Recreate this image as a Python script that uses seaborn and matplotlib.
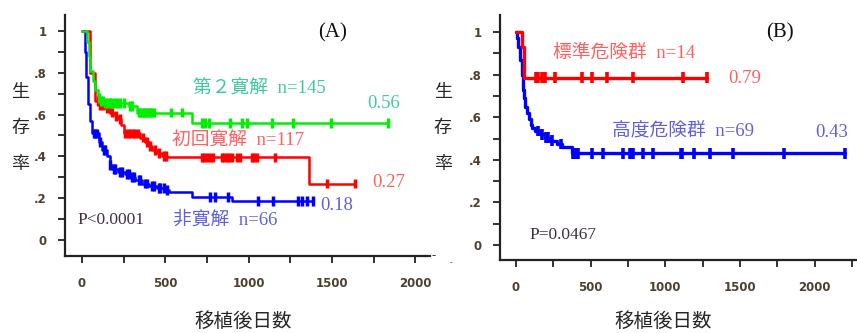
import numpy as np
import pandas as pd
import seaborn as sns
import matplotlib.pyplot as plt
from matplotlib.ticker import MultipleLocator

# ---- panel A: 寛解状態別 ----
a_green_t = [0, 30, 40, 50, 65, 80, 95, 110, 140, 280, 330, 660]
a_green_s = [1.0, 0.95, 0.88, 0.81, 0.76, 0.72, 0.68, 0.665, 0.655, 0.64, 0.61, 0.56]
a_green_end = 1838
a_green_c = [100, 115, 125, 140, 150, 165, 175, 190, 210, 230, 250, 290, 300, 340, 350,
             360, 370, 380, 390, 400, 410, 420, 430, 532, 600, 720, 740, 760, 888, 958,
             990, 1138, 1268, 1494, 1838]

a_red_t = [0, 45, 78, 100, 130, 170, 195, 215, 235, 250, 350, 380, 400, 420, 450, 480, 510, 1360]
a_red_s = [1.0, 0.80, 0.665, 0.645, 0.63, 0.61, 0.595, 0.58, 0.55, 0.51, 0.49, 0.47, 0.45,
           0.43, 0.415, 0.40, 0.395, 0.27]
a_red_end = 1638
a_red_c = [95, 110, 125, 150, 165, 180, 205, 225, 260, 275, 290, 305, 320, 335, 365, 390,
           410, 435, 460, 490, 505, 720, 735, 750, 770, 786, 840, 855, 870, 885, 900, 930,
           948, 1020, 1035, 1050, 1158, 1470, 1638]

a_blue_t = [0, 15, 25, 35, 45, 60, 100, 120, 150, 165, 180, 215, 260, 290, 320, 360, 400,
            450, 500, 520, 660, 900]
a_blue_s = [1.0, 0.90, 0.78, 0.65, 0.57, 0.51, 0.47, 0.43, 0.40, 0.36, 0.34, 0.325, 0.315,
            0.30, 0.285, 0.27, 0.26, 0.25, 0.24, 0.228, 0.205, 0.185]
a_blue_end = 1386
a_blue_c = [70, 80, 90, 110, 130, 140, 170, 190, 200, 230, 240, 270, 280, 300, 310, 340,
            350, 380, 390, 420, 430, 460, 470, 490, 510, 768, 798, 876, 1056, 1146, 1296,
            1320, 1350, 1386]

# ---- panel B: 危険群別 ----
b_red_t = [0, 38, 53]
b_red_s = [1.0, 0.929, 0.786]
b_red_end = 1277
b_red_c = [134, 148, 175, 195, 262, 444, 511, 612, 786, 1116, 1277]

b_blue_t = [0, 10, 15, 25, 40, 47, 55, 62, 74, 85, 100, 110, 128, 160, 195, 228, 275, 309, 376]
b_blue_s = [1.0, 0.97, 0.93, 0.87, 0.80, 0.73, 0.69, 0.65, 0.62, 0.59, 0.565, 0.55, 0.535,
            0.52, 0.505, 0.49, 0.475, 0.46, 0.43]
b_blue_end = 2204
b_blue_c = [150, 175, 200, 215, 240, 300, 383, 395, 405, 417, 511, 585, 719, 766, 775, 786,
            853, 921, 1102, 1115, 1190, 1297, 1452, 1794, 2204]

x_ticks_a = list(range(0, 2001, 250))
x_ticks_b = list(range(0, 2251, 250))
y_ticks = [0, 0.2, 0.4, 0.6, 0.8, 1.0]
y_tick_labels = ["0", ".2", ".4", ".6", ".8", "1"]


def km_frames(curves):
    lines, cens = [], []
    for name, t, s, end, c in curves:
        lines.append(pd.DataFrame({"day": t + [end], "surv": s + [s[-1]], "group": name}))
        idx = np.searchsorted(t, c, side="right") - 1
        cens.append(pd.DataFrame({"day": c, "surv": np.array(s)[idx], "group": name}))
    return pd.concat(lines), pd.concat(cens)


def style_axes(ax, xticks, xlim, ylim):
    sns.despine(ax=ax)
    for side in ["left", "bottom"]:
        ax.spines[side].set_linewidth(1.6)
        ax.spines[side].set_color("#222222")
    ax.set_xlim(*xlim)
    ax.set_ylim(*ylim)
    ax.set_xticks(xticks)
    ax.set_xticklabels([str(v) if v % 500 == 0 else "" for v in xticks])
    ax.set_yticks(y_ticks)
    ax.set_yticklabels(y_tick_labels)
    ax.yaxis.set_minor_locator(MultipleLocator(0.1))
    ax.tick_params(axis="both", which="both", direction="out", length=5, width=1.3,
                   color="#222222", labelcolor="#4d4030", labelsize=8.5,
                   bottom=True, left=True)
    ax.tick_params(axis="x", which="minor", bottom=False)
    ax.tick_params(axis="y", pad=8)
    ax.tick_params(axis="x", pad=10)
    for lab in ax.get_xticklabels() + ax.get_yticklabels():
        lab.set_fontweight("bold")
        lab.set_family(["DejaVu Sans"])


sns.set_style("ticks")
plt.rcParams["font.family"] = ["Liberation Serif", "Noto Sans CJK JP"]

fig = plt.figure(figsize=(8.57, 3.33), dpi=100)
ax_a = fig.add_axes([65 / 857, 1 - 256 / 333, 365 / 857, 241 / 333])
ax_b = fig.add_axes([500 / 857, 1 - 260 / 333, 357 / 857, 245 / 333])

# panel A
lines_a, cens_a = km_frames([
    ("非寛解", a_blue_t, a_blue_s, a_blue_end, a_blue_c),
    ("初回寛解", a_red_t, a_red_s, a_red_end, a_red_c),
    ("第２寛解", a_green_t, a_green_s, a_green_end, a_green_c),
])
pal_a = {"非寛解": "#0000ff", "初回寛解": "#ff0000", "第２寛解": "#00ee00"}
sns.lineplot(data=lines_a, x="day", y="surv", hue="group", palette=pal_a, estimator=None,
             sort=False, drawstyle="steps-post", linewidth=1.8, legend=False, ax=ax_a)
sns.scatterplot(data=cens_a, x="day", y="surv", hue="group", palette=pal_a, marker="|",
                s=50, linewidth=2.5, legend=False, ax=ax_a, zorder=3)
style_axes(ax_a, x_ticks_a, (-102, 2088), (-0.077, 1.077))

ax_a.text(1506, 0.99, "(A)", fontsize=15, ha="center", va="center", color="#111111")
ax_a.text(666, 0.722, "第２寛解  n=145", fontsize=13.5, color="#40c8a0", va="center")
ax_a.text(1710, 0.651, "0.56", fontsize=13.5, color="#40c8a0", va="center")
ax_a.text(540, 0.478, "初回寛解  n=117", fontsize=13.5, color="#ff6060", va="center")
ax_a.text(1740, 0.277, "0.27", fontsize=13.5, color="#ff6060", va="center")
ax_a.text(1428, 0.167, "0.18", fontsize=13.5, color="#6060d8", va="center")
ax_a.text(546, 0.096, "非寛解  n=66", fontsize=13.5, color="#6060d8", va="center")
ax_a.text(-30, 0.096, "P<0.0001", fontsize=12.5, color="#403040", va="center")

# panel B
lines_b, cens_b = km_frames([
    ("高度危険群", b_blue_t, b_blue_s, b_blue_end, b_blue_c),
    ("標準危険群", b_red_t, b_red_s, b_red_end, b_red_c),
])
pal_b = {"高度危険群": "#0000ff", "標準危険群": "#ff0000"}
sns.lineplot(data=lines_b, x="day", y="surv", hue="group", palette=pal_b, estimator=None,
             sort=False, drawstyle="steps-post", linewidth=2.4, legend=False, ax=ax_b)
sns.scatterplot(data=cens_b, x="day", y="surv", hue="group", palette=pal_b, marker="|",
                s=60, linewidth=2.6, legend=False, ax=ax_b, zorder=3)
style_axes(ax_b, x_ticks_b, (-107, 2284), (-0.070, 1.080))

ax_b.text(1768, 0.995, "(B)", fontsize=15, ha="center", va="center", color="#111111")
ax_b.text(248, 0.90, "標準危険群  n=14", fontsize=13.5, color="#ff6060", va="center")
ax_b.text(1420, 0.784, "0.79", fontsize=13.5, color="#ff6060", va="center")
ax_b.text(643, 0.53, "高度危険群  n=69", fontsize=13.5, color="#6060d8", va="center")
ax_b.text(2003, 0.53, "0.43", fontsize=13.5, color="#6060d8", va="center")
ax_b.text(87, 0.047, "P=0.0467", fontsize=12.5, color="#403040", va="center")

for ax, xl, yl in [(ax_a, (0.488, -0.272), (-0.123, 0.531)),
                   (ax_b, (0.457, -0.25), (-0.16, 0.539))]:
    ax.set_xlabel("移植後日数", fontsize=14, family=["Noto Sans CJK JP"])
    ax.xaxis.set_label_coords(*xl)
    ax.xaxis.label.set_va("center")
    ax.set_ylabel("生\n存\n率", fontsize=13, rotation=0, linespacing=2.3,
                  family=["Noto Sans CJK JP"])
    ax.yaxis.set_label_coords(*yl)
    ax.yaxis.label.set_va("center")

fig.text(432 / 857, 1 - 256 / 333, "-", fontsize=9, color="#333333", va="center")
fig.text(450 / 857, 1 - 263 / 333, "-", fontsize=6, color="#333333", va="center")

fig.savefig("out.png", dpi=100)
